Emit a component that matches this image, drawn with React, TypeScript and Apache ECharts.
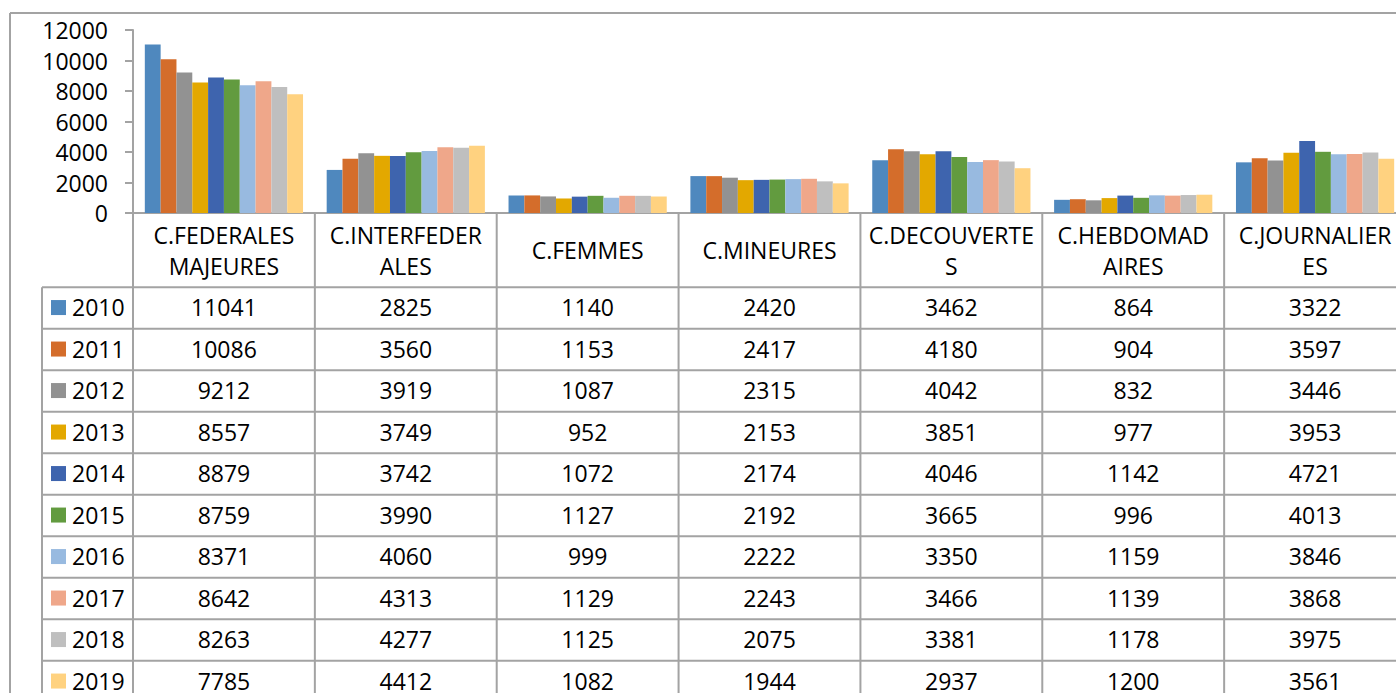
import React, { useEffect, useRef } from 'react';
import * as echarts from 'echarts';

const categories = [
  'C.FEDERALES MAJEURES',
  'C.INTERFEDERALES',
  'C.FEMMES',
  'C.MINEURES',
  'C.DECOUVERTES',
  'C.HEBDOMADAIRES',
  'C.JOURNALIERES',
];
const categoryLabels = [
  'C.FEDERALES\nMAJEURES',
  'C.INTERFEDER\nALES',
  'C.FEMMES',
  'C.MINEURES',
  'C.DECOUVERTE\nS',
  'C.HEBDOMAD\nAIRES',
  'C.JOURNALIER\nES',
];
const years = ['2010', '2011', '2012', '2013', '2014', '2015', '2016', '2017', '2018', '2019'];

const v2010 = [11041, 2825, 1140, 2420, 3462, 864, 3322];
const v2011 = [10086, 3560, 1153, 2417, 4180, 904, 3597];
const v2012 = [9212, 3919, 1087, 2315, 4042, 832, 3446];
const v2013 = [8557, 3749, 952, 2153, 3851, 977, 3953];
const v2014 = [8879, 3742, 1072, 2174, 4046, 1142, 4721];
const v2015 = [8759, 3990, 1127, 2192, 3665, 996, 4013];
const v2016 = [8371, 4060, 999, 2222, 3350, 1159, 3846];
const v2017 = [8642, 4313, 1129, 2243, 3466, 1139, 3868];
const v2018 = [8263, 4277, 1125, 2075, 3381, 1178, 3975];
const v2019 = [7785, 4412, 1082, 1944, 2937, 1200, 3561];
const seriesValues = [v2010, v2011, v2012, v2013, v2014, v2015, v2016, v2017, v2018, v2019];

const yMin = 0;
const yMax = 12000;
const yInterval = 2000;

const colors = [
  '#4F88BE', '#D46D2B', '#929292', '#E3A800', '#3E64AE',
  '#629B3F', '#98BAE0', '#EFA78A', '#BFBFBF', '#FFD280',
];

const FONT = '"Open Sans", "Liberation Sans", sans-serif';
const FS = 23;
const GRID_COLOR = '#A3A3A3';
const CHART_W = 1440;

export default function App() {
  const ref = useRef<HTMLDivElement>(null);

  useEffect(() => {
    if (!ref.current) return;
    const chart = echarts.init(ref.current, undefined, { renderer: 'svg' });
    const option: any = {
      animation: false,
      backgroundColor: '#fff',
      grid: { left: 133, top: 30, height: 183, width: 1273 },
      xAxis: {
        type: 'category',
        data: categories,
        axisLine: { show: true, lineStyle: { color: GRID_COLOR, width: 2 } },
        axisTick: { show: false },
        axisLabel: {
          formatter: (_v: string, i: number) => categoryLabels[i],
          fontFamily: FONT,
          fontSize: FS,
          lineHeight: 31,
          color: '#000',
          verticalAlign: 'middle',
          margin: 37,
          interval: 0,
        },
        splitLine: { show: false },
      },
      yAxis: {
        type: 'value',
        min: yMin,
        max: yMax,
        interval: yInterval,
        axisLine: { show: true, lineStyle: { color: GRID_COLOR, width: 2 } },
        axisTick: { show: true, length: 8, lineStyle: { color: GRID_COLOR, width: 2 } },
        axisLabel: {
          fontFamily: FONT,
          fontSize: FS,
          color: '#000',
          margin: 25,
          formatter: (v: number) => String(v),
        },
        splitLine: { show: false },
      },
      series: years.map((y, i) => ({
        name: y,
        type: 'bar',
        data: seriesValues[i],
        barGap: '0%',
        barCategoryGap: '13%',
        itemStyle: { color: colors[i] },
      })),
    };
    chart.setOption(option);

    const c0 = chart.convertToPixel({ xAxisIndex: 0 }, 0) as number;
    const c1 = chart.convertToPixel({ xAxisIndex: 0 }, 1) as number;
    const band = c1 - c0;
    const yZero = chart.convertToPixel({ yAxisIndex: 0 }, 0) as number;
    const tableTop = 287.3;
    const rowH = 41.5;
    const legendLeft = 42;
    const right = CHART_W;
    const bottom = 700;

    const els: any[] = [];
    const line = (x1: number, y1: number, x2: number, y2: number) =>
      els.push({
        type: 'line',
        silent: true,
        shape: { x1, y1, x2, y2 },
        style: { stroke: GRID_COLOR, lineWidth: 2 },
        z: 5,
      });

    // outer chart border
    line(10, 13, CHART_W, 13);
    line(10, 13, 10, 700);

    // vertical table lines at category boundaries
    for (let i = 0; i <= categories.length; i++) {
      const xc = chart.convertToPixel({ xAxisIndex: 0 }, Math.min(i, categories.length - 1)) as number;
      const x = i < categories.length ? xc - band / 2 : xc + band / 2;
      line(x, yZero, x, bottom);
    }
    // legend column left line
    line(legendLeft, tableTop, legendLeft, bottom);
    // horizontal row lines
    for (let r = 0; r <= years.length; r++) {
      const y = tableTop + r * rowH;
      line(legendLeft, y, right, y);
    }

    years.forEach((yr, r) => {
      const cy = tableTop + (r + 0.5) * rowH - 1;
      els.push({
        type: 'rect',
        silent: true,
        shape: { x: 51, y: cy - 7, width: 15, height: 15 },
        style: { fill: colors[r] },
        z: 6,
      });
      els.push({
        type: 'text',
        silent: true,
        x: 72,
        y: cy,
        style: {
          text: yr,
          fontFamily: FONT,
          fontSize: FS,
          fill: '#000',
          align: 'left',
          verticalAlign: 'middle',
        },
        z: 6,
      });
      seriesValues[r].forEach((v, i) => {
        const cx = chart.convertToPixel({ xAxisIndex: 0 }, i) as number;
        els.push({
          type: 'text',
          silent: true,
          x: cx,
          y: cy,
          style: {
            text: String(v),
            fontFamily: FONT,
            fontSize: FS,
            fill: '#000',
            align: 'center',
            verticalAlign: 'middle',
          },
          z: 6,
        });
      });
    });

    chart.setOption({ graphic: { elements: els } });

    return () => chart.dispose();
  }, []);

  return (
    <div
      style={{
        position: 'absolute',
        left: 0,
        top: 0,
        width: 1396,
        height: 693,
        overflow: 'hidden',
        background: '#fff',
      }}
    >
      <div ref={ref} style={{ width: CHART_W, height: 693 }} />
    </div>
  );
}
